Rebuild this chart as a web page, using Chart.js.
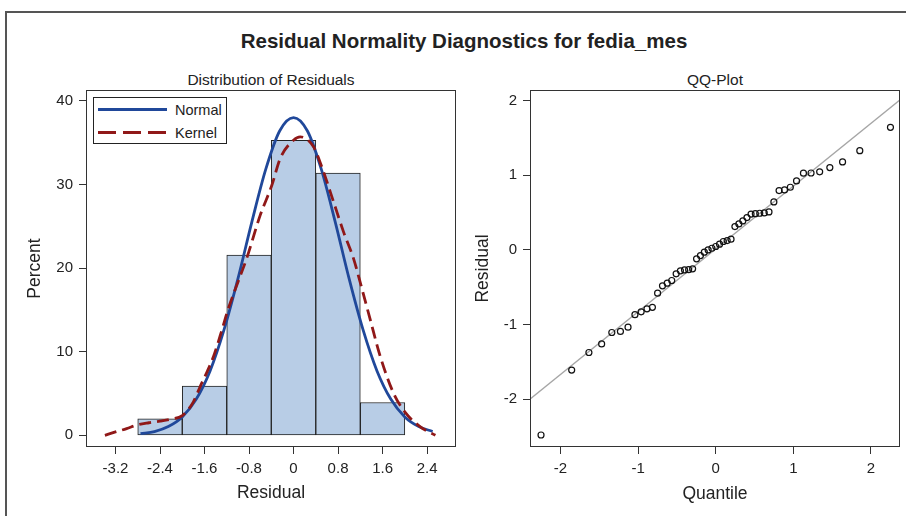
<!DOCTYPE html>
<html><head><meta charset="utf-8">
<script src="https://cdn.jsdelivr.net/npm/chart.js@4.4.1/dist/chart.umd.min.js"></script>
<style>
html,body{margin:0;padding:0;background:#fff;width:906px;height:516px;overflow:hidden;font-family:'Liberation Sans',Arial,sans-serif;color:#222}
.abs{position:absolute}
#frame{left:5px;top:11px;width:940px;height:540px;border-top:2px solid #555;border-left:2px solid #555}
#title{left:464px;top:41px;transform:translate(-50%,-50%);font-weight:bold;font-size:20.5px;white-space:nowrap}
.sub{top:79.5px;transform:translate(-50%,-50%);font-size:15.5px;white-space:nowrap}
#c1{left:0;top:0}
#c2{left:470px;top:0}
#legend{left:93px;top:97px;width:132px;height:45px;border:1px solid #222;background:#fff}
#legend span{position:absolute;left:81px;transform:translateY(-50%);font-size:14.5px;white-space:nowrap}
</style></head><body>
<div id="frame" class="abs"></div>
<div id="title" class="abs">Residual Normality Diagnostics for fedia_mes</div>
<div class="abs sub" style="left:271px">Distribution of Residuals</div>
<div class="abs sub" style="left:715px">QQ-Plot</div>
<canvas id="c1" class="abs" width="470" height="516"></canvas>
<canvas id="c2" class="abs" width="436" height="516"></canvas>
<div id="legend" class="abs">
  <svg width="132" height="45" style="position:absolute;left:0;top:0">
    <line x1="4" y1="11.5" x2="73" y2="11.5" stroke="#20489a" stroke-width="3"/>
    <line x1="4" y1="34.5" x2="73" y2="34.5" stroke="#901818" stroke-width="3" stroke-dasharray="18 7"/>
  </svg>
  <span style="top:11.5px">Normal</span>
  <span style="top:34.5px">Kernel</span>
</div>
<script>
// ---------- Histogram data ----------
const binCenters  = [-2.4, -1.6, -0.8, 0, 0.8, 1.6];
const binPercents = [1.96, 5.88, 21.57, 35.29, 31.37, 3.92];

const normalX = [-2.75,-2.5,-2.25,-2.0,-1.75,-1.5,-1.25,-1.0,-0.75,-0.5,-0.25,0,0.25,0.5,0.75,1.0,1.25,1.5,1.75,2.0,2.25,2.5];
const normalY = [0.2,0.45,1.05,2.2,4.3,7.7,12.6,18.7,25.5,31.8,36.4,38.0,36.4,31.8,25.5,18.7,12.6,7.7,4.3,2.2,1.05,0.45];

const kernelX = [-3.39,-3.2,-3.0,-2.8,-2.6,-2.4,-2.2,-2.0,-1.8,-1.68,-1.56,-1.44,-1.3,-1.18,-1.0,-0.84,-0.6,-0.39,-0.24,0,0.12,0.36,0.54,0.72,0.9,1.08,1.19,1.38,1.56,1.8,2.0,2.28,2.55];
const kernelY = [0.0,0.4,0.8,1.25,1.5,1.7,1.95,2.35,4.0,5.8,7.5,9.4,12.3,15.0,18.3,21.2,26.3,29.9,33.1,35.3,35.7,34.5,31.5,27.9,24.3,21.1,18.5,13.8,9.4,5.0,2.8,1.0,0.0];

const histXTicks = [-3.2,-2.4,-1.6,-0.8,0,0.8,1.6,2.4];
const histXTickLabels = ['-3.2','-2.4','-1.6','-0.8','0','0.8','1.6','2.4'];
const histYTicks = [0,10,20,30,40];
const histYTickLabels = ['0','10','20','30','40'];

// ---------- QQ data ----------
const qqQuantiles = [-2.251,-1.856,-1.634,-1.470,-1.339,-1.228,-1.130,-1.041,-0.961,-0.886,-0.816,-0.749,-0.686,-0.625,-0.567,-0.510,-0.455,-0.402,-0.349,-0.298,-0.247,-0.197,-0.147,-0.098,-0.049,0,0.049,0.098,0.147,0.197,0.247,0.298,0.349,0.402,0.455,0.510,0.567,0.625,0.686,0.749,0.816,0.886,0.961,1.041,1.130,1.228,1.339,1.470,1.634,1.856,2.251];
const qqResiduals = [-2.48,-1.61,-1.375,-1.26,-1.107,-1.093,-1.035,-0.868,-0.83,-0.79,-0.77,-0.58,-0.482,-0.446,-0.41,-0.321,-0.281,-0.268,-0.265,-0.254,-0.12,-0.076,-0.031,0.0,0.022,0.045,0.076,0.112,0.125,0.143,0.312,0.348,0.388,0.433,0.48,0.485,0.491,0.495,0.509,0.643,0.794,0.803,0.839,0.924,1.027,1.03,1.046,1.102,1.178,1.329,1.642];
const qqLineX = [-2.4, 2.4];
const qqLineY = [-2.005, 2.032];
const qqTicks = [-2,-1,0,1,2];
const qqTickLabels = ['-2','-1','0','1','2'];

Chart.defaults.font.family = "'Liberation Sans', Arial, sans-serif";
Chart.defaults.color = '#222';

const framePlugin = {
  id: 'frame',
  afterDatasetsDraw(chart) {
    const {ctx, chartArea: a} = chart;
    ctx.save();
    ctx.strokeStyle = '#333';
    ctx.lineWidth = 1;
    const L = Math.round(a.left), T = Math.round(a.top), R = Math.round(a.right), B = Math.round(a.bottom);
    ctx.strokeRect(L + 0.5, T + 0.5, R - L - 1, B - T - 1);
    ctx.restore();
  }
};

function axisCommon(ticksArr, labelsArr, opts) {
  return Object.assign({
    type: 'linear',
    offset: false,
    afterBuildTicks: s => { s.ticks = ticksArr.map(v => ({value: v})); },
    ticks: { callback: (v, i) => labelsArr[i], font: {size: 15}, color: '#222', padding: 6, autoSkip: false, maxRotation: 0 },
    grid: { display: true, drawOnChartArea: false, drawTicks: true, tickLength: 7, color: '#333', lineWidth: 1, offset: false },
    border: { display: false }
  }, opts);
}

new Chart(document.getElementById('c1'), {
  type: 'bar',
  data: {
    datasets: [
      { type: 'line', label: 'Kernel', data: kernelX.map((x, i) => ({x, y: kernelY[i]})),
        borderColor: '#901818', borderWidth: 2.8, borderDash: [12, 6], pointRadius: 0, fill: false,
        cubicInterpolationMode: 'monotone', order: 1 },
      { type: 'line', label: 'Normal', data: normalX.map((x, i) => ({x, y: normalY[i]})),
        borderColor: '#20489a', borderWidth: 2.8, pointRadius: 0, fill: false,
        cubicInterpolationMode: 'monotone', order: 2 },
      { type: 'bar', label: 'Residual', data: binCenters.map((x, i) => ({x, y: binPercents[i]})),
        backgroundColor: '#b8cde6', borderColor: '#222', borderWidth: 1, borderSkipped: false,
        barPercentage: 1, categoryPercentage: 1, order: 3 }
    ]
  },
  options: {
    responsive: false, animation: false,
    layout: { padding: { top: 90, right: 14, bottom: 0, left: 0 } },
    plugins: { legend: { display: false }, tooltip: { enabled: false } },
    scales: {
      x: axisCommon(histXTicks, histXTickLabels, {
        min: -3.73, max: 2.92,
        afterFit: s => { s.height = 69; },
        title: { display: true, text: 'Residual', font: {size: 17.5}, color: '#222', padding: {top: 0, bottom: 12.3} }
      }),
      y: axisCommon(histYTicks, histYTickLabels, {
        min: -1.4, max: 41.3,
        afterFit: s => { s.width = 86; },
        title: { display: true, text: 'Percent', font: {size: 17.5}, color: '#222', padding: {top: 25, bottom: 0} }
      })
    }
  },
  plugins: [framePlugin]
});

new Chart(document.getElementById('c2'), {
  type: 'scatter',
  data: {
    datasets: [
      { type: 'scatter', label: 'Residual', data: qqQuantiles.map((x, i) => ({x, y: qqResiduals[i]})),
        pointRadius: 3, pointBorderWidth: 1.2, borderColor: '#111', backgroundColor: 'rgba(0,0,0,0)',
        pointBackgroundColor: 'rgba(0,0,0,0)', pointBorderColor: '#111', order: 1 },
      { type: 'line', label: 'Reference', data: qqLineX.map((x, i) => ({x, y: qqLineY[i]})),
        borderColor: '#a6a6a6', borderWidth: 1.5, pointRadius: 0, fill: false, order: 2 }
    ]
  },
  options: {
    responsive: false, animation: false,
    layout: { padding: { top: 90, right: 6, bottom: 0, left: 0 } },
    plugins: { legend: { display: false }, tooltip: { enabled: false } },
    scales: {
      x: axisCommon(qqTicks, qqTickLabels, {
        min: -2.393, max: 2.374,
        afterFit: s => { s.height = 69; },
        title: { display: true, text: 'Quantile', font: {size: 17.5}, color: '#222', padding: {top: 0, bottom: 11.6} }
      }),
      y: axisCommon(qqTicks, qqTickLabels, {
        min: -2.641, max: 2.142,
        afterFit: s => { s.width = 60; },
        title: { display: true, text: 'Residual', font: {size: 17.5}, color: '#222', padding: {top: 2.5, bottom: 0} }
      })
    }
  },
  plugins: [framePlugin]
});
</script>
</body></html>
